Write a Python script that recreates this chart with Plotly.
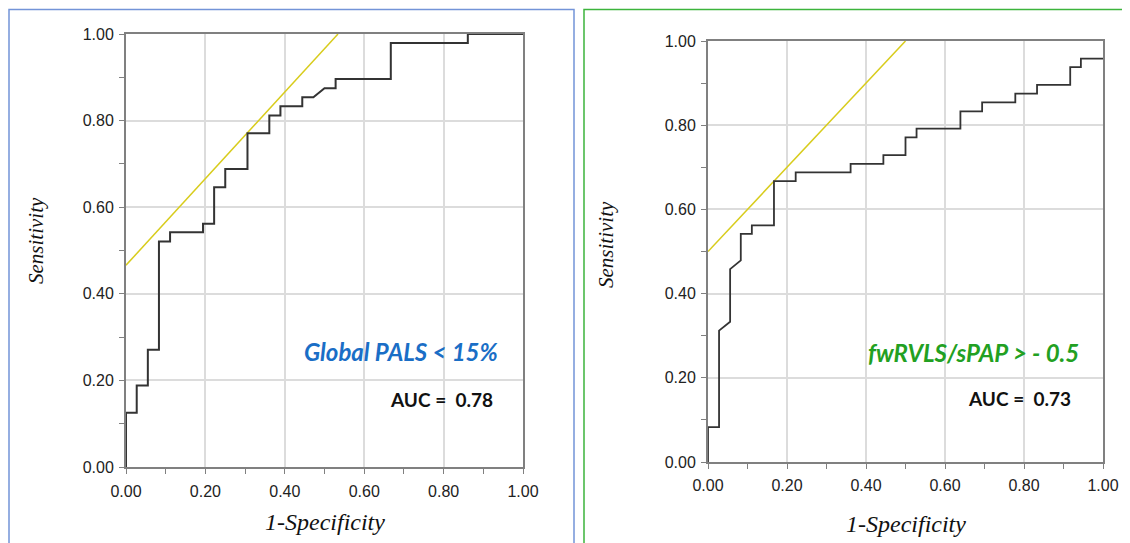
import plotly.graph_objects as go

# ---- data ----
left_fpr = [0, 0, 0.027, 0.027, 0.055, 0.055, 0.083, 0.083, 0.111, 0.111, 0.194, 0.194,
            0.222, 0.222, 0.25, 0.25, 0.306, 0.306, 0.361, 0.361, 0.389, 0.389, 0.444,
            0.444, 0.472, 0.5, 0.528, 0.528, 0.667, 0.667, 0.861, 0.861, 1.0]
left_tpr = [0, 0.125, 0.125, 0.188, 0.188, 0.271, 0.271, 0.521, 0.521, 0.542, 0.542, 0.562,
            0.562, 0.646, 0.646, 0.688, 0.688, 0.771, 0.771, 0.812, 0.812, 0.833, 0.833,
            0.854, 0.854, 0.875, 0.875, 0.896, 0.896, 0.979, 0.979, 1.0, 1.0]
left_tangent_x = [0, 0.534]
left_tangent_y = [0.466, 1.0]

right_fpr = [0, 0, 0.028, 0.028, 0.056, 0.056, 0.083, 0.083, 0.111, 0.111, 0.167, 0.167,
             0.222, 0.222, 0.361, 0.361, 0.444, 0.444, 0.5, 0.5, 0.528, 0.528, 0.639,
             0.639, 0.694, 0.694, 0.778, 0.778, 0.833, 0.833, 0.917, 0.917, 0.944,
             0.944, 1.0]
right_tpr = [0, 0.083, 0.083, 0.312, 0.333, 0.458, 0.479, 0.542, 0.542, 0.562, 0.562, 0.667,
             0.667, 0.688, 0.688, 0.708, 0.708, 0.729, 0.729, 0.771, 0.771, 0.792, 0.792,
             0.833, 0.833, 0.854, 0.854, 0.875, 0.875, 0.896, 0.896, 0.938, 0.938,
             0.958, 0.958]
right_tangent_x = [0, 0.5]
right_tangent_y = [0.5, 1.0]

tick_vals = [0, 0.2, 0.4, 0.6, 0.8, 1.0]
tick_text = ["0.00", "0.20", "0.40", "0.60", "0.80", "1.00"]
left_label = "Global PALS < 15%"
left_auc = "AUC =  0.78"
right_label = "fwRVLS/sPAP > - 0.5"
right_auc = "AUC =  0.73"

# page body has an 8px margin; size the figure to fit inside the window
OFF = 8
W, H = 1130 - OFF, 543 - OFF

def px(x):
    return (x - OFF) / W

def py(y):
    return 1 - (y - OFF) / H

fig = go.Figure()

curve_col = "#333333"
tan_col = "#d8cc1c"

fig.add_trace(go.Scatter(x=left_tangent_x, y=left_tangent_y, mode="lines",
                         line=dict(color=tan_col, width=1.5), xaxis="x", yaxis="y",
                         showlegend=False, hoverinfo="skip"))
fig.add_trace(go.Scatter(x=left_fpr, y=left_tpr, mode="lines",
                         line=dict(color=curve_col, width=2), xaxis="x", yaxis="y",
                         showlegend=False))
fig.add_trace(go.Scatter(x=right_tangent_x, y=right_tangent_y, mode="lines",
                         line=dict(color=tan_col, width=1.5), xaxis="x2", yaxis="y2",
                         showlegend=False, hoverinfo="skip"))
fig.add_trace(go.Scatter(x=right_fpr, y=right_tpr, mode="lines",
                         line=dict(color=curve_col, width=1.8), xaxis="x2", yaxis="y2",
                         showlegend=False))

tick_font = dict(family="Liberation Sans, Arial", size=16, color="#222222")

def axis(domain, anchor, standoff):
    return dict(domain=domain, anchor=anchor, range=[0, 1], tickvals=tick_vals,
                ticktext=tick_text, showgrid=True, gridcolor="#dcdcdc", gridwidth=1.5,
                zeroline=False, showline=True, linecolor="#808080", linewidth=2,
                mirror=True, ticks="outside", ticklen=5, tickcolor="#808080",
                tickwidth=1, tickfont=tick_font, automargin=False,
                ticklabelstandoff=standoff,
                minor=dict(dtick=0.1, tick0=0, ticks="outside", ticklen=5,
                           tickcolor="#808080", showgrid=False))

xa1 = axis([px(126), px(523)], "y", 4)
ya1 = axis([py(467), py(34)], "x", 2)
xa2 = axis([px(708), px(1103)], "y2", 3)
ya2 = axis([py(462), py(41)], "x2", 2)

fig.update_layout(
    width=W, height=H,
    margin=dict(l=0, r=0, t=0, b=0, pad=0, autoexpand=False),
    paper_bgcolor="white", plot_bgcolor="white",
    xaxis=xa1, yaxis=ya1, xaxis2=xa2, yaxis2=ya2,
)

xtitle_font = dict(family="Liberation Serif, Times New Roman", size=24, color="#111111")
ytitle_font = dict(family="Liberation Serif, Times New Roman", size=21, color="#111111")

annotations = [
    dict(text="<i>1-Specificity</i>", x=px(325), y=py(522), xref="paper", yref="paper",
         showarrow=False, font=xtitle_font, xanchor="center", yanchor="middle"),
    dict(text="<i>1-Specificity</i>", x=px(906), y=py(524), xref="paper", yref="paper",
         showarrow=False, font=xtitle_font, xanchor="center", yanchor="middle"),
    dict(text="<i>Sensitivity</i>", x=px(36), y=py(241), xref="paper", yref="paper",
         showarrow=False, font=ytitle_font, textangle=-90, xanchor="center", yanchor="middle"),
    dict(text="<i>Sensitivity</i>", x=px(606), y=py(245), xref="paper", yref="paper",
         showarrow=False, font=ytitle_font, textangle=-90, xanchor="center", yanchor="middle"),
    dict(text="<b><i>" + left_label + "</i></b>", x=0.942, y=0.266, xref="x", yref="y",
         showarrow=False, xanchor="right", yanchor="middle",
         font=dict(family="Lato", size=24, color="#1a6ec6")),
    dict(text="<b>" + left_auc + "</b>", x=0.929, y=0.155, xref="x", yref="y",
         showarrow=False, xanchor="right", yanchor="middle",
         font=dict(family="Lato", size=19, color="#111111")),
    dict(text="<b><i>" + right_label + "</i></b>", x=0.944, y=0.261, xref="x2", yref="y2",
         showarrow=False, xanchor="right", yanchor="middle",
         font=dict(family="Lato", size=24, color="#22a022")),
    dict(text="<b>" + right_auc + "</b>", x=0.924, y=0.152, xref="x2", yref="y2",
         showarrow=False, xanchor="right", yanchor="middle",
         font=dict(family="Lato", size=19, color="#111111")),
]
fig.update_layout(annotations=annotations)

shapes = [
    dict(type="rect", xref="paper", yref="paper", x0=px(9), x1=px(574), y0=py(580), y1=py(9.5),
         line=dict(color="#7394d8", width=1.5), fillcolor="rgba(0,0,0,0)", layer="below"),
    dict(type="rect", xref="paper", yref="paper", x0=px(584), x1=px(1170), y0=py(580), y1=py(9.5),
         line=dict(color="#3cb43c", width=1.5), fillcolor="rgba(0,0,0,0)", layer="below"),
]
fig.update_layout(shapes=shapes)

fig.write_html("out.html")
